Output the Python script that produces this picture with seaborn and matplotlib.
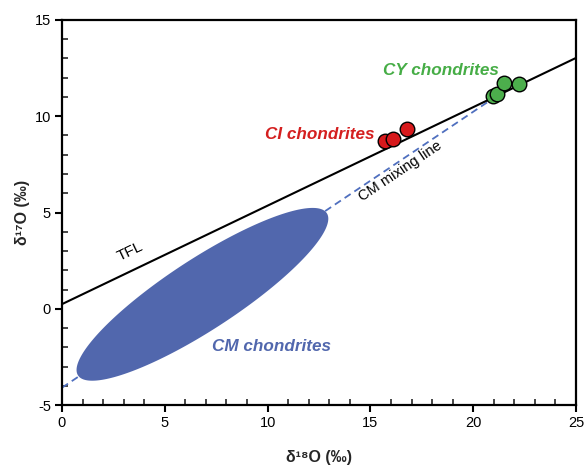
import numpy as np
import pandas as pd
import matplotlib
matplotlib.use("Agg")
import matplotlib.pyplot as plt
import seaborn as sns

# ---- data ----
ci_d18O = [15.71, 16.11, 16.77]
ci_d17O = [8.73, 8.83, 9.35]
cy_d18O = [20.95, 21.17, 21.51, 22.24]
cy_d17O = [11.03, 11.15, 11.72, 11.68]
tfl_x = [0.0, 25.0]
tfl_y = [0.24, 13.03]
mix_x = [0.0, 21.0]
mix_y = [-4.1, 10.95]
# CM field ellipse: tips along mixing line and half-width (data units)
cm_tip_low = (0.79, -3.48)
cm_tip_high = (12.87, 4.98)
cm_minor_half = (1.0, -1.5)
x_ticks = [0, 5, 10, 15, 20, 25]
y_ticks = [-5, 0, 5, 10, 15]

sns.set_theme(style="ticks")
plt.rcParams['font.family'] = ['Liberation Sans', 'DejaVu Sans']
plt.rcParams['axes.unicode_minus'] = False

fig = plt.figure(figsize=(5.84, 4.65), dpi=100)
ax = fig.add_axes([62/584, 1-405/465, (576-62)/584, (405-20)/465])

# CM ellipse
c = ((cm_tip_low[0]+cm_tip_high[0])/2, (cm_tip_low[1]+cm_tip_high[1])/2)
maj = ((cm_tip_high[0]-cm_tip_low[0])/2, (cm_tip_high[1]-cm_tip_low[1])/2)
t = np.linspace(0, 2*np.pi, 300)
ex = c[0] + np.cos(t)*maj[0] + np.sin(t)*cm_minor_half[0]
ey = c[1] + np.cos(t)*maj[1] + np.sin(t)*cm_minor_half[1]
ax.fill(ex, ey, color="#5167ad", lw=0, zorder=2)

sns.lineplot(x=mix_x, y=mix_y, ax=ax, color="#4f6fbf", lw=1.3,
             linestyle=(0, (4, 2.5)), zorder=1.5)
sns.lineplot(x=tfl_x, y=tfl_y, ax=ax, color="black", lw=1.5, zorder=3)

sns.scatterplot(x=ci_d18O, y=ci_d17O, ax=ax, s=110, color="#d7191c",
                edgecolor="black", linewidth=1.0, zorder=4)
sns.scatterplot(x=cy_d18O, y=cy_d17O, ax=ax, s=110, color="#4cae4c",
                edgecolor="black", linewidth=1.0, zorder=4)

ax.set_xlim(0, 25)
ax.set_ylim(-5, 15)
ax.set_xticks(x_ticks)
ax.set_yticks(y_ticks)
ax.set_xticks(np.arange(0, 26, 1), minor=True)
ax.set_yticks(np.arange(-5, 16, 1), minor=True)
ax.tick_params(which="major", direction="out", length=5, width=1.5,
               labelsize=10.5, colors="black", pad=3)
ax.tick_params(which="minor", direction="in", length=4, width=1.2)
for s in ax.spines.values():
    s.set_linewidth(1.6)
    s.set_color("black")

ax.set_xlabel("δ¹⁸O (‰)", fontsize=11.5, fontweight="bold", labelpad=14)
ax.set_ylabel("δ¹⁷O (‰)", fontsize=11.5, fontweight="bold", labelpad=3)

ax.text(18.43, 12.4, "CY chondrites", color="#46ad46", fontsize=12.3,
        fontweight="bold", fontstyle="italic", ha="center", va="center")
ax.text(12.55, 9.04, "CI chondrites", color="#d41f1f", fontsize=12.3,
        fontweight="bold", fontstyle="italic", ha="center", va="center")
ax.text(10.2, -1.94, "CM chondrites", color="#5167ad", fontsize=12.3,
        fontweight="bold", fontstyle="italic", ha="center", va="center")
ax.text(3.3, 2.95, "TFL", color="black", fontsize=11, rotation=25.6,
        ha="center", va="center", rotation_mode="anchor")
ax.text(16.45, 7.15, "CM mixing line", color="black", fontsize=10.5,
        rotation=33.8, ha="center", va="center", rotation_mode="anchor")

fig.savefig("out.png", dpi=100)
